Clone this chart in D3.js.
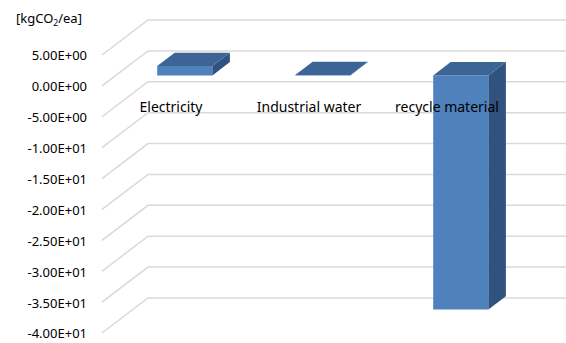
<!DOCTYPE html>
<html>
<head>
<meta charset="utf-8">
<script src="https://cdn.jsdelivr.net/npm/d3@7/dist/d3.min.js"></script>
<style>
  html, body { margin: 0; padding: 0; background: #ffffff; }
  svg { display: block; }
  text { font-family: "Noto Sans", "Noto Sans CJK KR", sans-serif; fill: #000; }
</style>
</head>
<body>
<svg id="chart" width="566" height="343"></svg>
<script>
// Emission factor per unit, kgCO2/ea
const categories = ["Electricity", "Industrial water", "recycle material"];
const values = [1.5, 0.05, -37.9];
const tickValues = [5, 0, -5, -10, -15, -20, -25, -30, -35, -40];
const tickLabels = ["5.00E+00", "0.00E+00", "-5.00E+00", "-1.00E+01", "-1.50E+01",
                    "-2.00E+01", "-2.50E+01", "-3.00E+01", "-3.50E+01", "-4.00E+01"];
const unitLabel = ["[kgCO", "2", "/ea]"];

const W = 566, H = 343;
const svg = d3.select("#chart");

// Front plane of the 3D box
const x = d3.scaleBand().domain(categories).range([102, 516])
  .paddingInner(0.6).paddingOuter(0.3);
const y = d3.scaleLinear().domain([-40, 5]).range([333, 55]);

// Oblique depth projection: full depth of the box
const DX = 46, DY = -35;
const BAR_F0 = 0.30, BAR_F1 = 0.68;
const P = (px, v, f) => [px + f * DX, y(v) + f * DY];
const poly = pts => pts.map(p => p.join(",")).join(" ");

// Grid: side-wall diagonal plus back-wall horizontal
const grid = svg.append("g").attr("fill", "none").attr("stroke", "#d9d9d9").attr("stroke-width", 1.5);
tickValues.forEach(v => {
  const a = P(102, v, 0), b = P(102, v, 1);
  grid.append("polyline").attr("points", poly([a, b, [W, b[1]]]));
});

// Tick labels
svg.append("g").selectAll("text").data(tickValues).join("text")
  .attr("x", 87).attr("y", d => y(d) + 2)
  .attr("text-anchor", "end").attr("dominant-baseline", "middle")
  .attr("font-size", 13)
  .text((d, i) => tickLabels[i]);

// Unit label
const u = svg.append("text").attr("x", 16).attr("y", 23).attr("font-size", 13);
u.append("tspan").text(unitLabel[0]);
u.append("tspan").attr("font-size", 8.5).attr("dy", 3).text(unitLabel[1]);
u.append("tspan").attr("dy", -3).text(unitLabel[2]);

// Bars
const bars = svg.append("g");
categories.forEach((c, i) => {
  const v = values[i];
  const x0 = x(c), x1 = x(c) + x.bandwidth();
  const top = Math.max(0, v), bot = Math.min(0, v);
  const g = bars.append("g");
  // front face
  g.append("polygon").attr("fill", "#4f81bd")
    .attr("points", poly([P(x0, top, BAR_F0), P(x1, top, BAR_F0), P(x1, bot, BAR_F0), P(x0, bot, BAR_F0)]));
  // right side face
  g.append("polygon").attr("fill", "#30527f")
    .attr("points", poly([P(x1, top, BAR_F0), P(x1, top, BAR_F1), P(x1, bot, BAR_F1), P(x1, bot, BAR_F0)]));
  // top face
  g.append("polygon").attr("fill", "#3c6496")
    .attr("points", poly([P(x0, top, BAR_F0), P(x1, top, BAR_F0), P(x1, top, BAR_F1), P(x0, top, BAR_F1)]));
});

// Category labels along the front floor edge
svg.append("g").selectAll("text").data(categories).join("text")
  .attr("x", d => x(d) + x.bandwidth() / 2).attr("y", 108)
  .attr("text-anchor", "middle").attr("dominant-baseline", "middle")
  .attr("font-size", 14)
  .text(d => d);
</script>
</body>
</html>
